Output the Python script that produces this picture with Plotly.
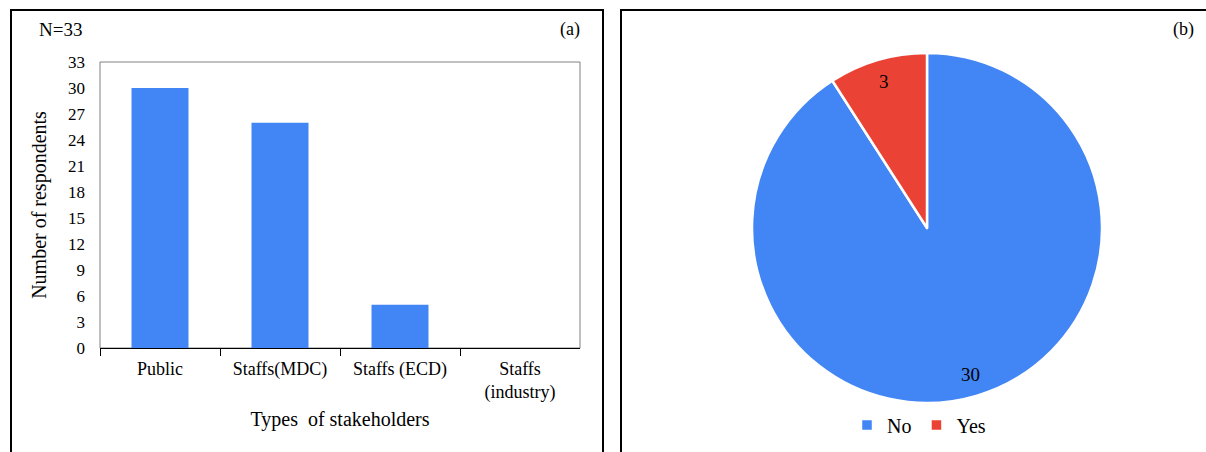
import math
import plotly.graph_objects as go

W, H = 1206, 452

# Data
categories = ["Public", "Staffs(MDC)", "Staffs (ECD)", "Staffs<br>(industry)"]
respondents = [30, 26, 5, 0]
y_ticks = [0, 3, 6, 9, 12, 15, 18, 21, 24, 27, 30, 33]
pie_labels = ["No", "Yes"]
pie_values = [30, 3]

BLUE = "#4285F4"
RED = "#EA4335"
FONT = "Liberation Serif"

def px(x):
    return x / W

def py(y):
    return 1 - y / H

PIE_X = [px(752), px(1102)]
PIE_Y = [py(403), py(53)]

fig = go.Figure()

fig.add_trace(go.Bar(
    x=categories, y=respondents, marker=dict(color=BLUE, line=dict(width=0)),
    showlegend=False, xaxis="x", yaxis="y", hoverinfo="x+y",
))

fig.add_trace(go.Pie(
    labels=pie_labels, values=pie_values, sort=False, direction="clockwise", rotation=0,
    marker=dict(colors=[BLUE, RED], line=dict(color="white", width=2.5)),
    textinfo="none", automargin=False,
    domain=dict(x=PIE_X, y=PIE_Y),
    showlegend=True,
))

# "inside end" value labels, positioned from the data (mid-angle of each slice)
annotations = []
cx_px = (752 + 1102) / 2
cy_px = (53 + 403) / 2
R = (1102 - 752) / 2
total = sum(pie_values)
start = 0.0
for lab, v in zip(pie_labels, pie_values):
    mid = start + v / total * 360 / 2
    start += v / total * 360
    a = math.radians(mid)
    r = 0.875 * R
    tx = cx_px + r * math.sin(a)
    ty = cy_px - r * math.cos(a)
    annotations.append(dict(text=str(v), xref="paper", yref="paper", x=px(tx), y=py(ty),
                            xanchor="center", yanchor="middle", showarrow=False,
                            font=dict(size=19, family=FONT, color="black")))

annotations += [
    dict(text="N=33", xref="paper", yref="paper", x=px(37), y=py(30),
         xanchor="left", yanchor="middle", showarrow=False, font=dict(size=19, family=FONT)),
    dict(text="(a)", xref="paper", yref="paper", x=px(582), y=py(30),
         xanchor="right", yanchor="middle", showarrow=False, font=dict(size=18, family=FONT)),
    dict(text="(b)", xref="paper", yref="paper", x=px(1196), y=py(30),
         xanchor="right", yanchor="middle", showarrow=False, font=dict(size=18, family=FONT)),
]

fig.update_layout(
    width=W, height=H, autosize=False,
    margin=dict(l=0, r=0, t=0, b=0, pad=0, autoexpand=False),
    paper_bgcolor="white", plot_bgcolor="white",
    font=dict(family=FONT, color="black", size=17),
    bargap=0.525,
    xaxis=dict(
        domain=[px(100), px(580)], anchor="y", automargin=False,
        showline=True, linecolor="black", linewidth=1,
        ticks="outside", tickson="boundaries", ticklen=7, tickcolor="black",
        tickfont=dict(size=18, family=FONT),
        ticklabelstandoff=4,
        title=dict(text="Types  of stakeholders", font=dict(size=20, family=FONT), standoff=9),
        showgrid=False, zeroline=False,
    ),
    yaxis=dict(
        domain=[py(348), py(62)], anchor="x", automargin=False,
        range=[0, 33], tickvals=y_ticks,
        showgrid=False, zeroline=False, showline=False,
        ticks="", ticklabelstandoff=14,
        tickfont=dict(size=17, family=FONT),
        title=dict(text="Number of respondents", font=dict(size=20, family=FONT), standoff=16),
    ),
    legend=dict(
        orientation="h", x=px(919), y=py(425), xanchor="center", yanchor="middle",
        font=dict(size=20, family=FONT), itemwidth=30,
        bgcolor="rgba(0,0,0,0)", traceorder="normal",
    ),
    shapes=[
        dict(type="rect", xref="paper", yref="paper",
             x0=px(100), x1=px(580), y0=py(348), y1=py(62),
             line=dict(color="#808080", width=1), layer="below"),
        dict(type="rect", xref="paper", yref="paper",
             x0=px(11), x1=px(603), y0=py(470), y1=py(10),
             line=dict(color="black", width=2)),
        dict(type="rect", xref="paper", yref="paper",
             x0=px(621), x1=px(1225), y0=py(470), y1=py(10),
             line=dict(color="black", width=2)),
    ],
    annotations=annotations,
)

post = (
    "document.documentElement.style.overflow='hidden';"
    "document.body.style.margin='0';"
    "document.body.style.padding='0';"
    "document.body.style.overflow='hidden';"
    "var gd=document.getElementById('{plot_id}');"
    "gd.style.position='fixed';gd.style.top='0px';gd.style.left='0px';"
)

fig.write_html(
    "out.html",
    config={"displayModeBar": False},
    post_script=post,
)
